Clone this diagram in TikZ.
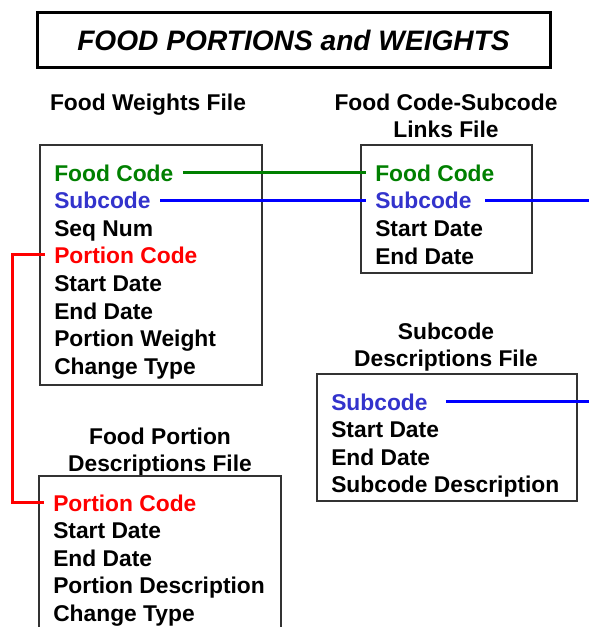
\documentclass[tikz,border=0pt]{standalone}
\usepackage{fontspec}
\setmainfont{Liberation Sans}
\usepackage{tikz}

\definecolor{codegreen}{RGB}{0,128,0}
\definecolor{subblue}{RGB}{51,51,204}
\definecolor{lineblue}{RGB}{0,0,255}
\definecolor{portred}{RGB}{255,0,0}

\tikzset{
  field/.style={anchor=base west, inner sep=0pt, text depth=0pt, font=\fontsize{17.1}{20.7}\selectfont\bfseries},
  filehead/.style={align=center, inner sep=0pt, text depth=0pt, font=\fontsize{17.1}{20.4}\selectfont\bfseries},
  filebox/.style={draw=black!80, line width=1pt},
  keylink/.style={line width=2.25pt, shorten <=7pt, shorten >=7pt},
}

\begin{document}
\begin{tikzpicture}[x=0.75pt,y=0.75pt,yscale=-1,xscale=1]
	\useasboundingbox (0,0) rectangle (589,627);
	
	% Title Node
	\draw (293.5,40.5) node [draw, line width=2.25pt, minimum width=384.75pt, minimum height=41.25pt, inner sep=0pt, font=\fontsize{21.1}{25}\selectfont\bfseries\itshape] (title) {FOOD PORTIONS and WEIGHTS};
	
	% File Headings
	\node [filehead] (weightshead) at (148,102) {Food Weights File};
	\node [filehead] (linkshead) at (446,115.5) {Food Code-Subcode\\Links File};
	\node [filehead] (subdeschead) at (446,344.5) {Subcode\\Descriptions File};
	\node [filehead] (portdeschead) at (160,449.5) {Food Portion\\Descriptions File};
	
	%Shape: Rectangle (food weights)
	\draw [filebox] (40,145) rectangle (262,385);
	%Shape: Rectangle (code-subcode links)
	\draw [filebox] (361,145) rectangle (532,273);
	%Shape: Rectangle (subcode descriptions)
	\draw [filebox] (317,374) rectangle (577,501);
	%Shape: Rectangle (portion descriptions, runs off the bottom)
	\draw [filebox] (39,627) -- (39,476) -- (281,476) -- (281,627);
	
	% Food Weights File fields
	\node [field, codegreen] (wfood) at (54,181) {Food Code};
	\node [field, subblue] (wsub) at (54,208.5) {Subcode};
	\node [field] (wseq) at (54,236) {Seq Num};
	\node [field, portred] (wport) at (54,263) {Portion Code};
	\node [field] (wstart) at (54,291) {Start Date};
	\node [field] (wend) at (54,319) {End Date};
	\node [field] (wweight) at (54,346) {Portion Weight};
	\node [field] (wchange) at (54,374) {Change Type};
	
	% Links File fields
	\node [field, codegreen] (lfood) at (375,181) {Food Code};
	\node [field, subblue] (lsub) at (375,208.5) {Subcode};
	\node [field] (lstart) at (375,236) {Start Date};
	\node [field] (lend) at (375,264) {End Date};
	
	% Subcode Descriptions File fields
	\node [field, subblue] (dsub) at (331,410) {Subcode};
	\node [field] (dstart) at (331,437) {Start Date};
	\node [field] (dend) at (331,465) {End Date};
	\node [field] (ddesc) at (331,492) {Subcode Description};
	
	% Food Portion Descriptions File fields
	\node [field, portred] (pport) at (53,511) {Portion Code};
	\node [field] (pstart) at (53,538) {Start Date};
	\node [field] (pend) at (53,566) {End Date};
	\node [field] (pdesc) at (53,593) {Portion Description};
	\node [field] (pchange) at (53,621) {Change Type};
	
	% free ends of the links
	\coordinate (rightedge) at (589,0);
	\coordinate (redtrack) at (12,0);
	
	%Straight Lines (food code)
	\draw [keylink, codegreen] (wfood.east) -- (lfood.west);
	%Straight Lines (subcode)
	\draw [keylink, lineblue] (wsub.east) -- (lsub.west);
	\draw [keylink, lineblue, shorten <=10pt, shorten >=0pt] (lsub.east) -- (lsub.east -| rightedge);
	\draw [keylink, lineblue, shorten <=13.5pt, shorten >=0pt] (dsub.east) -- (dsub.east -| rightedge);
	%Straight Lines (portion code)
	\draw [keylink, portred] (wport.west) -- (wport.west -| redtrack) |- (pport.west);
	
\end{tikzpicture}
\end{document}
